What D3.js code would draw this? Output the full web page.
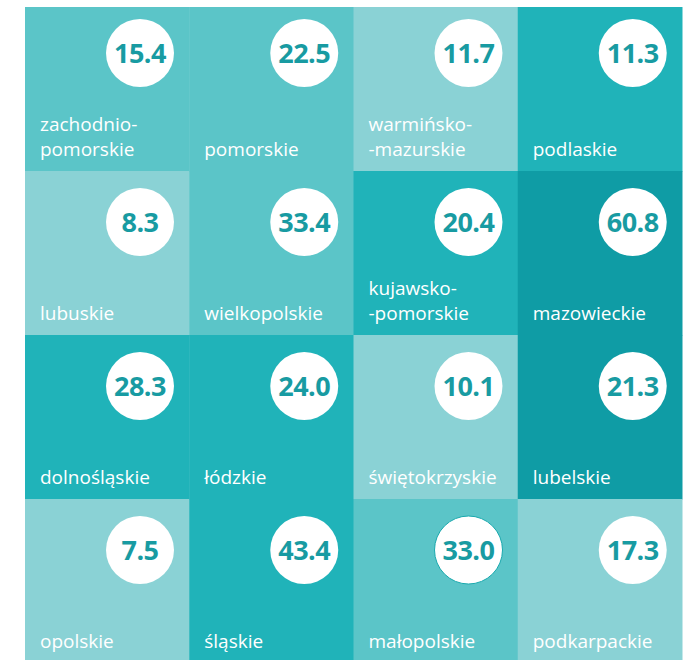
<!DOCTYPE html>
<html>
<head>
<meta charset="utf-8">
<script src="https://cdn.jsdelivr.net/npm/d3@7"></script>
<style>
  body { margin: 0; background: #fff; }
  svg { display: block; font-family: "Open Sans", sans-serif; }
</style>
</head>
<body>
<div id="chart"></div>
<script>
const W = 687, H = 660;

// voivodeships in tile-map order (row by row)
const names = [
  "zachodnio-\npomorskie", "pomorskie", "warmińsko-\n-mazurskie", "podlaskie",
  "lubuskie", "wielkopolskie", "kujawsko-\n-pomorskie", "mazowieckie",
  "dolnośląskie", "łódzkie", "świętokrzyskie", "lubelskie",
  "opolskie", "śląskie", "małopolskie", "podkarpackie"
];
const values = [15.4, 22.5, 11.7, 11.3, 8.3, 33.4, 20.4, 60.8, 28.3, 24.0, 10.1, 21.3, 7.5, 43.4, 33.0, 17.3];
// shade class of each tile: 0 light, 1 medium, 2 teal, 3 dark
const tone = [1, 1, 0, 2, 0, 1, 2, 3, 2, 2, 0, 3, 0, 2, 1, 0];
const cols = [0, 1, 2, 3];
const rows = [0, 1, 2, 3];
const toneColors = ["#8ad2d5", "#5bc5c8", "#20b3b9", "#0f9ca5"];

const tiles = names.map((n, i) => ({
  name: n, value: values[i], tone: tone[i],
  col: i % 4, row: Math.floor(i / 4), outline: n === "małopolskie"
}));

const svg = d3.select("#chart").append("svg")
  .attr("width", W).attr("height", H);

const x = d3.scaleBand().domain(cols).range([25, 682]);
const y = d3.scaleBand().domain(rows).range([7, 663]);
const color = d3.scaleOrdinal().domain([0, 1, 2, 3]).range(toneColors);

const g = svg.selectAll("g.tile")
  .data(tiles)
  .join("g")
    .attr("class", "tile")
    .attr("transform", d => `translate(${x(d.col)},${y(d.row)})`);

g.append("rect")
  .attr("width", x.bandwidth() + 0.5)
  .attr("height", y.bandwidth() + 0.5)
  .attr("fill", d => color(d.tone));

// value bubble
g.append("circle")
  .attr("cx", 115)
  .attr("cy", d => d.row === 0 ? 46 : 51)
  .attr("r", 34)
  .attr("fill", "#fff")
  .attr("stroke", d => d.outline ? "#1aa9ae" : "none")
  .attr("stroke-width", 1);

g.append("text")
  .attr("x", 115)
  .attr("y", d => (d.row === 0 ? 46 : 51) + 10)
  .attr("text-anchor", "middle")
  .attr("font-size", 27)
  .attr("font-weight", 700)
  .attr("letter-spacing", -0.5)
  .attr("fill", "#189ba2")
  .text(d => d3.format(".1f")(d.value));

// region name, bottom aligned
const lab = g.append("text")
  .attr("x", 15)
  .attr("font-size", 19)
  .attr("fill", "#fff");
lab.each(function(d) {
  const lines = d.name.split("\n");
  const base = y.bandwidth() - 15;
  d3.select(this).selectAll("tspan")
    .data(lines)
    .join("tspan")
      .attr("x", 15)
      .attr("y", (l, j) => base - (lines.length - 1 - j) * 25)
      .text(l => l);
});
</script>
</body>
</html>
